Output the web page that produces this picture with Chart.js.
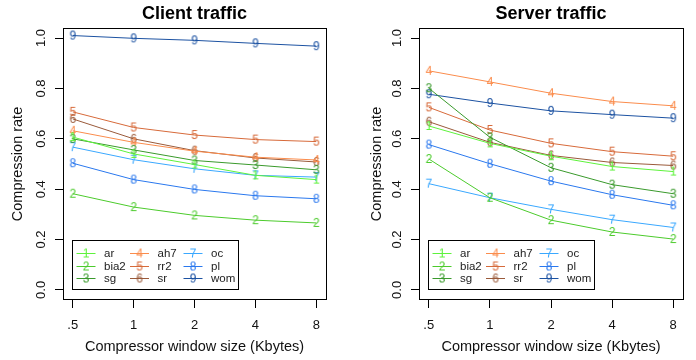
<!DOCTYPE html>
<html>
<head>
<meta charset="utf-8">
<script src="https://cdn.jsdelivr.net/npm/chart.js@4"></script>
<style>
  body { margin: 0; background: #fff; }
  #wrap { display: flex; width: 696px; height: 360px; }
  canvas { display: block; }
</style>
</head>
<body>
<div id="wrap">
  <canvas id="client" width="348" height="360"></canvas>
  <canvas id="server" width="348" height="360"></canvas>
</div>
<script>
// window sizes (Kbytes)
const xLabels = ['.5', '1', '2', '4', '8'];
const yTicks = [0, 0.2, 0.4, 0.6, 0.8, 1.0];
const seriesNames = ['ar', 'bia2', 'sg', 'ah7', 'rr2', 'sr', 'oc', 'pl', 'wom'];
const seriesMarks = ['1', '2', '3', '4', '5', '6', '7', '8', '9'];

// client traffic
const clientAr   = [0.607, 0.540, 0.498, 0.455, 0.438];
const clientBia2 = [0.382, 0.329, 0.296, 0.277, 0.266];
const clientSg   = [0.600, 0.556, 0.514, 0.496, 0.477];
const clientAh7  = [0.632, 0.586, 0.551, 0.527, 0.516];
const clientRr2  = [0.707, 0.645, 0.615, 0.597, 0.589];
const clientSr   = [0.679, 0.600, 0.553, 0.524, 0.508];
const clientOc   = [0.567, 0.517, 0.481, 0.455, 0.448];
const clientPl   = [0.503, 0.438, 0.399, 0.374, 0.362];
const clientWom  = [1.010, 0.999, 0.991, 0.979, 0.968];

// server traffic
const serverAr   = [0.651, 0.582, 0.531, 0.490, 0.470];
const serverBia2 = [0.520, 0.366, 0.277, 0.230, 0.202];
const serverSg   = [0.801, 0.606, 0.485, 0.418, 0.382];
const serverAh7  = [0.870, 0.826, 0.781, 0.748, 0.731];
const serverRr2  = [0.725, 0.635, 0.582, 0.549, 0.531];
const serverSr   = [0.668, 0.586, 0.534, 0.506, 0.494];
const serverOc   = [0.422, 0.366, 0.320, 0.279, 0.248];
const serverPl   = [0.577, 0.501, 0.432, 0.378, 0.336];
const serverWom  = [0.777, 0.742, 0.711, 0.696, 0.682];

const colors = ['#5ef23c', '#4ccb2c', '#3a9a2c', '#fb8c4c', '#d76a3a', '#9a5a3a', '#3aa8ff', '#2a78ee', '#1c52a2'];
const FONT = '"Liberation Sans", Arial, Helvetica, sans-serif';

// digit used as plotting symbol
function digitMark(ch, color) {
  const c = document.createElement('canvas');
  c.width = 12; c.height = 14;
  const g = c.getContext('2d');
  g.font = '12px ' + FONT;
  g.fillStyle = color;
  g.textAlign = 'center';
  g.textBaseline = 'middle';
  g.fillText(ch, 6, 7.5);
  return c;
}
const marks = seriesMarks.map((m, i) => digitMark(m, colors[i]));

// frame around plot region + legend in bottom-left corner
const framePlugin = {
  id: 'frame',
  afterDraw(chart) {
    const { ctx, chartArea: a } = chart;
    ctx.save();
    ctx.strokeStyle = '#000';
    ctx.lineWidth = 1;
    ctx.strokeRect(Math.round(a.left) + 0.5, Math.round(a.top) + 0.5,
      Math.round(a.right - a.left), Math.round(a.bottom - a.top) - 1);

    const bx = Math.round(a.left) + 9.5, by = Math.round(a.bottom) - 59.5;
    ctx.fillStyle = '#fff';
    ctx.fillRect(bx, by, 166, 49);
    ctx.strokeRect(bx, by, 166, 49);
    ctx.font = '11.5px ' + FONT;
    ctx.textBaseline = 'middle';
    ctx.textAlign = 'left';
    chart.data.datasets.forEach((ds, i) => {
      const col = Math.floor(i / 3), row = i % 3;
      const x0 = bx + 4 + col * 53.5, y0 = Math.round(by + 12.5 + row * 12.6) + 0.5;
      ctx.strokeStyle = ds.borderColor;
      ctx.beginPath(); ctx.moveTo(x0, y0); ctx.lineTo(x0 + 19, y0); ctx.stroke();
      ctx.drawImage(ds.pointStyle, x0 + 9.5 - 6, y0 - 7);
      ctx.fillStyle = '#222';
      ctx.fillText(ds.label, x0 + 27.5, y0 + 0.5);
    });
    ctx.restore();
  }
};

function makePanel(id, title, values, yWidth, rightPad, yTitlePad) {
  const datasets = values.map((vals, i) => ({
    label: seriesNames[i],
    data: vals.map((v, j) => ({ x: j + 1, y: v })),
    borderColor: colors[i],
    backgroundColor: colors[i],
    borderWidth: 1,
    pointStyle: marks[i],
    pointRadius: 6,
    tension: 0
  }));
  return new Chart(document.getElementById(id), {
    type: 'line',
    data: { datasets },
    options: {
      responsive: false,
      animation: false,
      events: [],
      layout: { padding: { left: 0, right: rightPad, top: 0, bottom: 0 } },
      plugins: {
        legend: { display: false },
        tooltip: { enabled: false },
        title: {
          display: true, text: title, fullSize: false, color: '#000',
          font: { family: FONT, size: 18, weight: 'bold' },
          padding: { top: 3.2, bottom: 3.2 }
        }
      },
      scales: {
        x: {
          type: 'linear', min: 0.84, max: 5.16,
          afterBuildTicks: s => { s.ticks = xLabels.map((l, i) => ({ value: i + 1 })); },
          afterFit: s => { s.height = 60; },
          ticks: {
            color: '#111', font: { family: FONT, size: 13 }, padding: 10,
            maxRotation: 0, minRotation: 0,
            callback: v => xLabels[v - 1]
          },
          grid: { drawOnChartArea: false, color: '#000', tickLength: 8, tickColor: '#000' },
          border: { display: false },
          title: {
            display: true, text: 'Compressor window size (Kbytes)', color: '#111',
            font: { family: FONT, size: 14.5 }, padding: { top: 0, bottom: 4.5 }
          }
        },
        y: {
          min: -0.04, max: 1.04,
          afterBuildTicks: s => { s.ticks = yTicks.map(v => ({ value: v })); },
          afterFit: s => { s.width = yWidth; },
          ticks: {
            color: '#111', font: { family: FONT, size: 13 }, padding: 5,
            minRotation: 90, maxRotation: 90, crossAlign: 'center',
            callback: v => v.toFixed(1)
          },
          grid: { drawOnChartArea: false, color: '#000', tickLength: 8, tickColor: '#000' },
          border: { display: false },
          title: {
            display: true, text: 'Compression rate', color: '#111',
            font: { family: FONT, size: 14.5 }, padding: { top: yTitlePad, bottom: 0 }
          }
        }
      }
    },
    plugins: [framePlugin]
  });
}

makePanel('client', 'Client traffic',
  [clientAr, clientBia2, clientSg, clientAh7, clientRr2, clientSr, clientOc, clientPl, clientWom],
  63, 22, 9.5);
makePanel('server', 'Server traffic',
  [serverAr, serverBia2, serverSg, serverAh7, serverRr2, serverSr, serverOc, serverPl, serverWom],
  71, 13, 20.5);
</script>
</body>
</html>
